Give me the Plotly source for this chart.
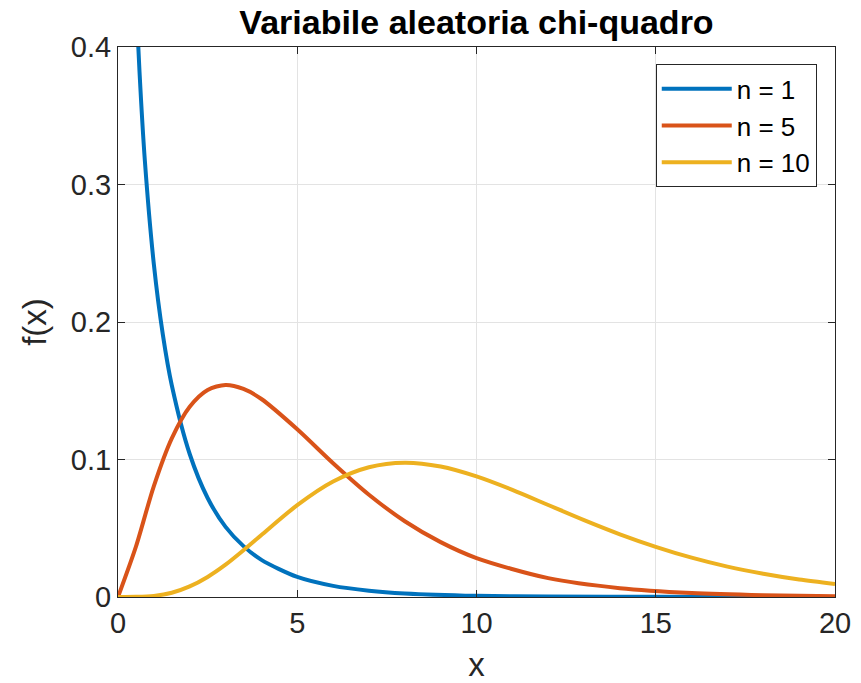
import plotly.graph_objects as go

# Density values
x_n1 = [0.3, 0.4, 0.5, 0.6, 0.75, 1.0, 1.25, 1.5, 2.0, 2.5, 3.0, 3.5, 4.0, 5.0, 6.0, 7.0, 8.0, 10.0, 12.0, 15.0, 20.0]
y_n1 = [0.627, 0.517, 0.439, 0.382, 0.317, 0.242, 0.191, 0.154, 0.104, 0.072, 0.051, 0.037, 0.027, 0.0146, 0.0081,
        0.0046, 0.0026, 0.00085, 0.0003, 0.0001, 0.0]

x_n5 = [0.0, 0.5, 1.0, 1.5, 2.0, 2.5, 3.0, 3.5, 4.0, 5.0, 6.0, 7.0, 8.0, 9.0, 10.0, 12.0, 14.0, 16.0, 18.0, 20.0]
y_n5 = [0.0, 0.0366, 0.0807, 0.1154, 0.1384, 0.1506, 0.1542, 0.1513, 0.1440, 0.1220, 0.0973, 0.0744, 0.0551,
        0.0399, 0.0283, 0.0137, 0.0064, 0.0029, 0.0013, 0.0005]

x_n10 = [0.0, 0.5, 1.0, 1.5, 2.0, 2.5, 3.0, 3.5, 4.0, 5.0, 6.0, 7.0, 8.0, 9.0, 10.0, 11.0, 12.0, 13.0, 14.0,
         15.0, 16.0, 17.0, 18.0, 19.0, 20.0]
y_n10 = [0.0, 0.0001, 0.0008, 0.0031, 0.0077, 0.0146, 0.0235, 0.0340, 0.0451, 0.0668, 0.0840, 0.0944, 0.0977,
         0.0949, 0.0877, 0.0779, 0.0669, 0.0559, 0.0456, 0.0365, 0.0286, 0.0221, 0.0169, 0.0127, 0.0095]

series = [
    ("n = 1", x_n1, y_n1, "#0072BD"),
    ("n = 5", x_n5, y_n5, "#D95319"),
    ("n = 10", x_n10, y_n10, "#EDB120"),
]

x_ticks = [0, 5, 10, 15, 20]
y_ticks = [0, 0.1, 0.2, 0.3, 0.4]
y_tick_text = ["0", "0.1", "0.2", "0.3", "0.4"]

FONT = "Liberation Sans, Arial, Helvetica, sans-serif"
AX = "#262626"

fig = go.Figure()
for name, xs, ys, color in series:
    fig.add_trace(go.Scatter(
        x=xs, y=ys, name=name, mode="lines",
        line=dict(color=color, width=4, shape="spline", smoothing=0.8),
    ))

axis_common = dict(
    showline=True, linecolor=AX, linewidth=1, mirror="ticks",
    ticks="inside", ticklen=7, tickcolor=AX, tickwidth=1,
    showgrid=True, gridcolor="#e3e3e3", gridwidth=1,
    zeroline=False, automargin=False,
    tickfont=dict(family=FONT, size=29, color=AX),
)

fig.update_layout(
    width=861, height=683,
    margin=dict(l=118, r=26, t=47, b=86),
    paper_bgcolor="white", plot_bgcolor="white",
    title=dict(text="<b>Variabile aleatoria chi-quadro</b>", x=(118 + 835) / 2 / 861, xanchor="center",
               y=1 - 22 / 683, yanchor="middle", font=dict(family=FONT, size=34, color="black")),
    xaxis=dict(range=[0, 20], tickvals=x_ticks, ticktext=[str(v) for v in x_ticks],
               title=dict(text="x", font=dict(family=FONT, size=33, color=AX), standoff=20),
               **axis_common),
    yaxis=dict(range=[0, 0.4], tickvals=y_ticks, ticktext=y_tick_text,
               title=dict(text="f(x)", font=dict(family=FONT, size=33, color=AX), standoff=14),
               **axis_common),
    legend=dict(x=0.75, y=0.9685, xanchor="left", yanchor="top", bgcolor="white",
                bordercolor=AX, borderwidth=1, font=dict(family=FONT, size=26, color="black"),
                itemwidth=70, tracegroupgap=0),
    showlegend=True,
)

fig.write_html("out.html")
